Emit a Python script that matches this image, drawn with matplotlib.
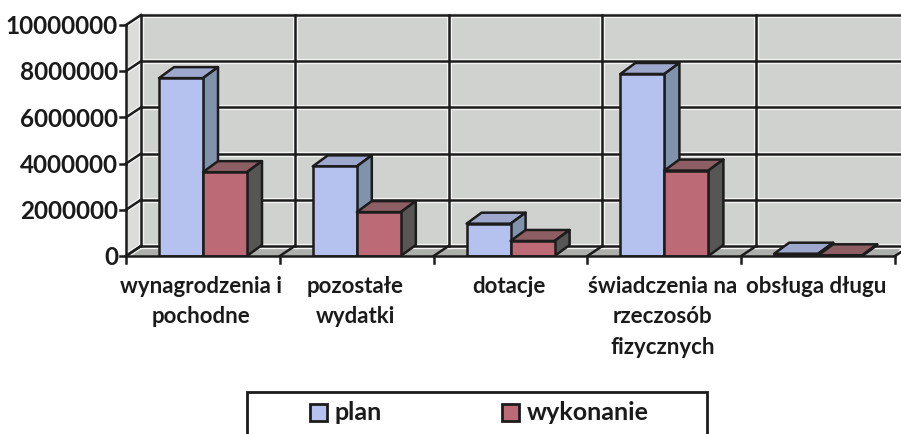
import matplotlib
matplotlib.use('Agg')
import matplotlib.pyplot as plt
from matplotlib.patches import Rectangle

categories = ['wynagrodzenia i\npochodne', 'pozostałe\nwydatki', 'dotacje',
              'świadczenia na\nrzeczosób\nfizycznych', 'obsługa długu']
plan = [7700000, 3880000, 1400000, 7880000, 100000]
wykonanie = [3630000, 1900000, 650000, 3700000, 30000]
yticks = [0, 2000000, 4000000, 6000000, 8000000, 10000000]
series_names = ['plan', 'wykonanie']

FONT = 'Lato'
W, H = 901, 434
x0, x1, y_top, y_bot = 126, 895, 25, 256

fig = plt.figure(figsize=(W / 100, H / 100), dpi=100, facecolor='white')
ax = fig.add_axes([x0 / W, 1 - y_bot / H, (x1 - x0) / W, (y_bot - y_top) / H])
ax.set_xlim(0, 5)
ax.set_ylim(0, 10000000)
ax.axis('off')

# depth of the fake 3d, pixels turned into data units
dx = 15 / ((x1 - x0) / 5)
dy = 10 / ((y_bot - y_top) / 10000000)
edge = '#1c1c1c'
lw = 1.8
right_end = 5 + 6 / 153.8

# back wall, side wall, floor
ax.fill([dx, right_end, right_end, dx], [dy, dy, 10000000 + dy, 10000000 + dy],
        color='#d0d2cf', zorder=1, clip_on=False)
ax.fill([0, dx, dx, 0], [0, dy, 10000000 + dy, 10000000],
        color='#dcdddb', zorder=1, clip_on=False)
ax.fill([0, dx, right_end, 5], [0, dy, dy, 0], color='#adb0aa', zorder=1, clip_on=False)


def grid(xs, ys):
    # scan leaves a pale halo round the dark lines
    ax.plot(xs, ys, color='#f4f4f2', lw=lw + 2, zorder=1.5, clip_on=False)
    ax.plot(xs, ys, color=edge, lw=lw, zorder=2, clip_on=False)


# gridlines on the walls
for t in yticks:
    grid([dx, right_end], [t + dy, t + dy])
    grid([0, dx], [t, t + dy])
    ax.plot([-6 / 153.8, 0], [t, t], color=edge, lw=lw, zorder=2, clip_on=False)
for i in range(6):
    if i < 5:
        grid([i + dx, i + dx], [dy, 10000000 + dy])
    ax.plot([i, i + dx], [0, dy], color=edge, lw=lw, zorder=2, clip_on=False)
    ax.plot([i, i], [0, -300000], color=edge, lw=lw, zorder=2, clip_on=False)
ax.plot([0, 0], [0, 10000000], color=edge, lw=lw, zorder=2, clip_on=False)
ax.plot([0, 5], [0, 0], color=edge, lw=lw, zorder=6, clip_on=False)


def bar3d(x, w, h, front, top, side, z):
    ax.fill([x, x + dx, x + w + dx, x + w], [h, h + dy * 1.1, h + dy * 1.1, h],
            fc=top, ec=edge, lw=lw, zorder=z, joinstyle='round')
    ax.fill([x + w, x + w + dx, x + w + dx, x + w], [0, dy * 1.1, h + dy * 1.1, h],
            fc=side, ec=edge, lw=lw, zorder=z, joinstyle='round')
    ax.bar(x, h, w, align='edge', color=front, ec=edge, lw=lw, zorder=z)


bw = 44 / 153.8
start = 33 / 153.8
for i in range(5):
    bar3d(i + start, bw, plan[i], '#b5c2ef', '#9ea8cc', '#7f93ad', 3)
    bar3d(i + start + bw, bw, wykonanie[i], '#bb6a76', '#8d5f64', '#565654', 4)

ax.set_yticks([])
for t in yticks:
    ax.text(-8 / 153.8, t - 70000, str(t), ha='right', va='center', family=FONT,
            fontweight='bold', fontsize=17.5, color='#1a1a1a', clip_on=False)
for i, c in enumerate(categories):
    ax.text(i + 0.49, -850000, c, ha='center', va='top', family=FONT, fontweight='bold',
            fontsize=16, color='#1a1a1a', linespacing=1.58, clip_on=False)

# legend, cut off by the bottom of the scan
fig.patches.append(Rectangle((247 / W, -0.02), 460 / W, 0.02 + (434 - 392) / H, transform=fig.transFigure,
                             fc='white', ec=edge, lw=2))
for name, px, tx, colr in zip(series_names, [310, 502], [334, 527], ['#b5c2ef', '#bb6a76']):
    fig.patches.append(Rectangle((px / W, 1 - 421 / H), 17 / W, 17 / H, transform=fig.transFigure,
                                 fc=colr, ec=edge, lw=2))
    fig.text(tx / W, 1 - 413 / H, name, ha='left', va='center', family=FONT,
             fontweight='bold', fontsize=18, color='#1a1a1a')

plt.savefig('out.png', dpi=100)
